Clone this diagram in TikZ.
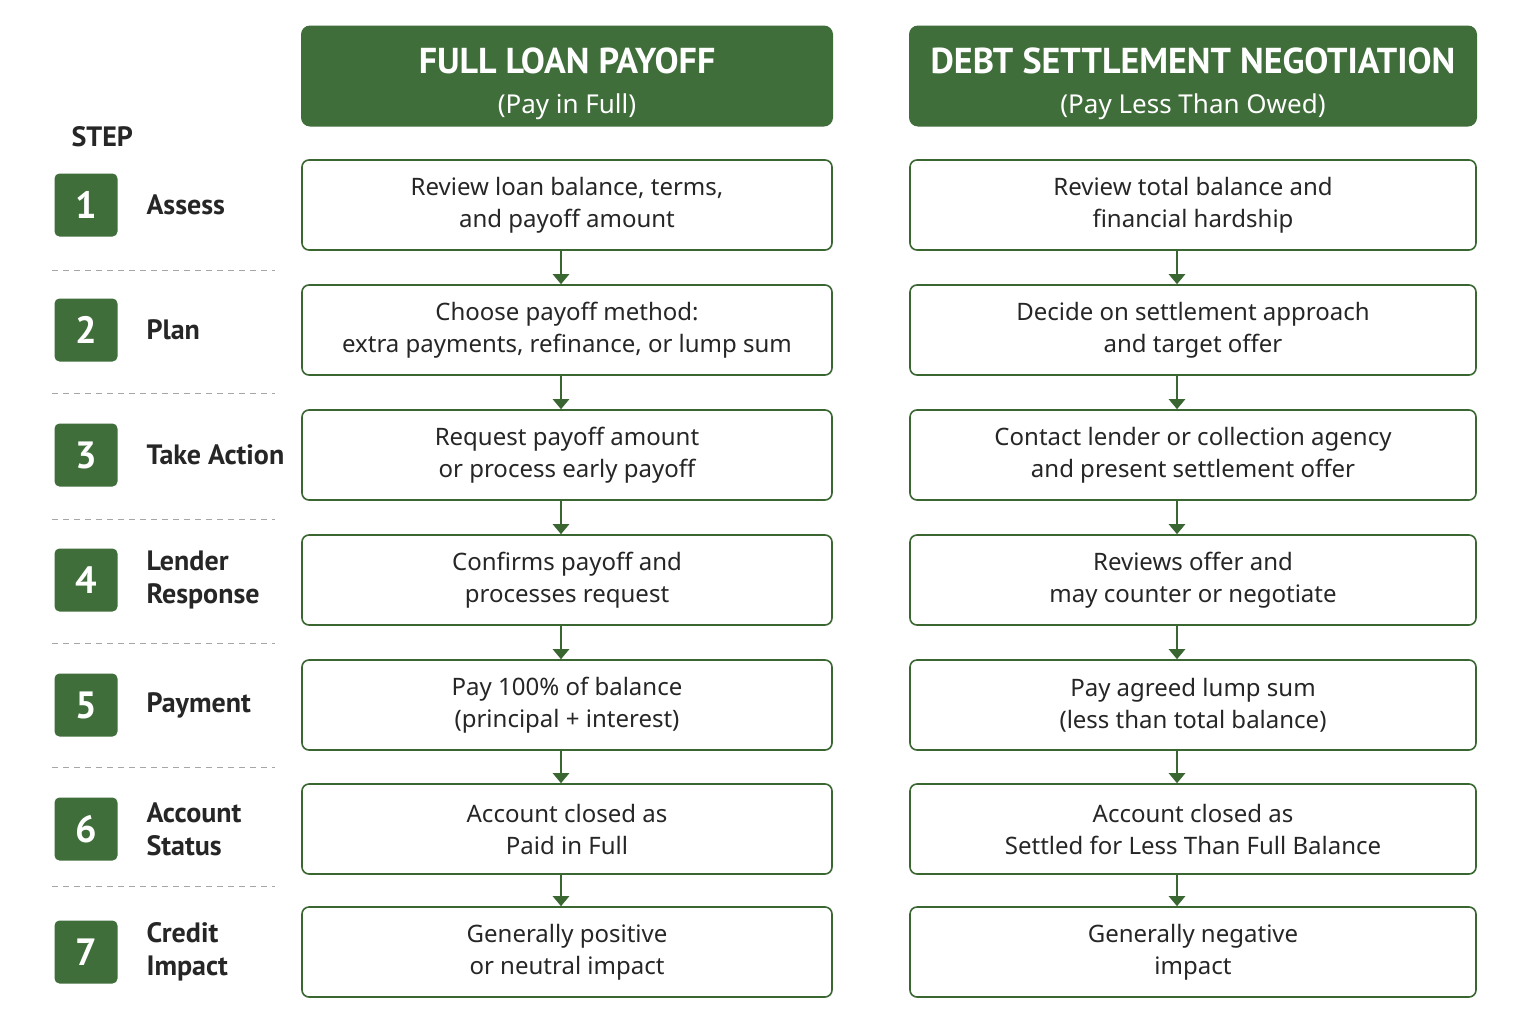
\documentclass[tikz,border=0pt]{standalone}
\usepackage{fontspec}
\setmainfont{Noto Sans}
\newfontfamily\lab{PT Sans}
\usetikzlibrary{arrows.meta}
\definecolor{gr}{HTML}{3F6E3A}
\definecolor{gb}{HTML}{3A6632}
\begin{document}
\begin{tikzpicture}[x=1pt,y=-1pt,
 box/.style={draw=gb,line width=1.6pt,rounded corners=7pt,minimum height=90pt,align=center,font=\fontsize{24}{32}\selectfont,text=black!85},
 lbox/.style={box,minimum width=530pt},
 rbox/.style={box,minimum width=566pt},
 hdr/.style={fill=gr,rounded corners=9pt,minimum height=101pt},
 htxt/.style={align=center,text=white,font=\fontsize{26}{40}\selectfont},
 num/.style={fill=gr,rounded corners=5pt,minimum size=63pt,text=white,font=\lab\bfseries\fontsize{38}{38}\selectfont},
 slab/.style={anchor=west,align=left,font=\lab\bfseries\fontsize{28}{33}\selectfont,text=black!85},
 dsh/.style={draw=gray!70,dashed,line width=1pt,dash pattern=on 6pt off 5pt},
 arr/.style={draw=gb,line width=2.5pt,-{Triangle[length=10pt,width=16pt]}}]
\useasboundingbox (0,0) rectangle (1528,1023);
\fill[white] (0,0) rectangle (1528,1023);
\node[hdr,minimum width=532pt] (h1) at (567,76) {};
\node[hdr,minimum width=568pt] (h2) at (1193,76) {};
\node[htxt] (t1) at (567,84) {{\lab\bfseries\fontsize{36}{40}\selectfont FULL LOAN PAYOFF}\\(Pay in Full)};
\node[htxt] (t2) at (1193,84) {{\lab\bfseries\fontsize{36}{40}\selectfont DEBT SETTLEMENT NEGOTIATION}\\(Pay Less Than Owed)};
\node[anchor=west,font=\lab\bfseries\fontsize{28}{30}\selectfont,text=black!85] (st) at (68,137) {STEP};
\foreach \i/\y/\lt/\a/\b in {
 1/205/{Assess}/{Review loan balance, terms,\\and payoff amount}/{Review total balance and\\financial hardship},
 2/330/{Plan}/{Choose payoff method:\\extra payments, refinance, or lump sum}/{Decide on settlement approach\\and target offer},
 3/455/{Take Action}/{Request payoff amount\\or process early payoff}/{Contact lender or collection agency\\and present settlement offer},
 4/580/{Lender\\Response}/{Confirms payoff and\\processes request}/{Reviews offer and\\may counter or negotiate},
 5/705/{Payment}/{Pay 100\% of balance\\(principal + interest)}/{Pay agreed lump sum\\(less than total balance)},
 6/829/{Account\\Status}/{Account closed as\\Paid in Full}/{Account closed as\\Settled for Less Than Full Balance},
 7/952/{Credit\\Impact}/{Generally positive\\or neutral impact}/{Generally negative\\impact}}{
 \node[num] (n\i) at (86,\y) {\i};
 \node[slab] (s\i) at (143,\y) {\lt};
 \node[lbox] (l\i) at (567,\y) {\a};
 \node[rbox] (r\i) at (1193,\y) {\b};
}
\foreach \y in {270,393,519,643,767,886}{\draw[dsh] (52,\y) -- (275,\y);}
\foreach \i/\j in {1/2,2/3,3/4,4/5,5/6,6/7}{
 \draw[arr] (l\i.south -| 561,0) -- (l\j.north -| 561,0);
 \draw[arr] (r\i.south -| 1177,0) -- (r\j.north -| 1177,0);
}
\end{tikzpicture}
\end{document}
